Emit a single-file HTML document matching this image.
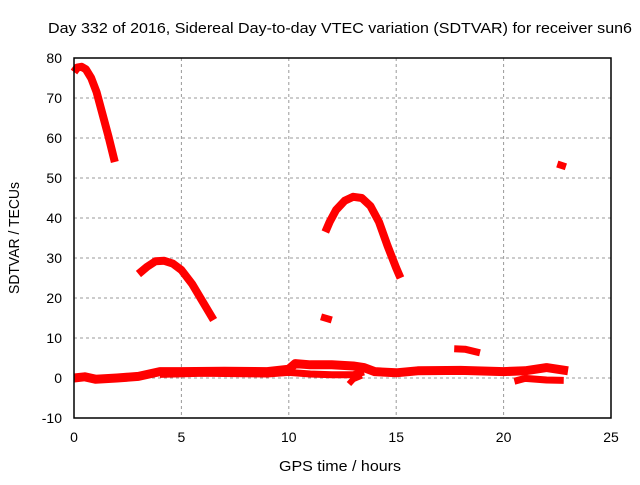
<!DOCTYPE html>
<html><head><meta charset="utf-8"><style>
body{margin:0;background:#fff}
svg{font-family:"Liberation Sans",sans-serif;font-size:14px}
</style></head><body>
<svg id="c" width="640" height="480">
<text x="340" y="33" text-anchor="middle" textLength="584" lengthAdjust="spacingAndGlyphs" font-size="15">Day 332 of 2016, Sidereal Day-to-day VTEC variation (SDTVAR) for receiver sun6</text>
<text x="340" y="471" text-anchor="middle" textLength="122" lengthAdjust="spacingAndGlyphs" font-size="15">GPS time / hours</text>
<text transform="translate(19,238) rotate(-90)" text-anchor="middle" textLength="112" lengthAdjust="spacingAndGlyphs" font-size="15">SDTVAR / TECUs</text>
<g id="grid"></g><g id="ser"></g>
<rect x="74" y="58" width="537" height="360" fill="none" stroke="#000" stroke-width="1.5"/>
</svg>
<script>
const xTicks=[0,5,10,15,20,25];
const yTicks=[-10,0,10,20,30,40,50,60,70,80];
const seg1x=[0,0.15,0.35,0.55,0.8,1.05,1.3,1.6,1.9];
const seg1y=[76.5,77.6,77.8,77.2,75,71.5,66.5,60.5,54];
const seg2x=[3.0,3.4,3.8,4.2,4.6,5.0,5.5,6.0,6.5];
const seg2y=[26,27.8,29.2,29.3,28.6,27,23.5,19,14.5];
const seg3x=[11.7,11.9,12.2,12.6,13.0,13.4,13.8,14.2,14.6,15.0,15.2];
const seg3y=[36.5,39,42,44.3,45.3,45,43,39,33,27.5,25];
const seg4x=[11.5,12.0];const seg4y=[15.3,14.5];
const seg5x=[22.5,22.9];const seg5y=[53.5,52.8];
const seg6x=[17.7,18.2,18.9];const seg6y=[7.3,7.2,6.3];
const baseX=[0,0.5,1,2,3,4,5,7,9,10,10.3,11,12,13,13.5,14,15,16,18,20,21,22,23];
const baseY=[0,0.3,-0.3,0,0.4,1.6,1.6,1.7,1.6,2.2,3.6,3.3,3.3,3.0,2.6,1.6,1.3,1.8,1.9,1.6,1.8,2.6,1.8];
const bandX=[4,6,9,10,11,12,13,13.5];const bandY=[0.9,1.2,1.0,1.4,1.0,0.8,0.8,1.5];
const dipX=[12.8,13.0,13.4];const dipY=[-1.5,-0.3,0.6];
const lowX=[20.5,21,22,22.8];const lowY=[-0.8,-0.1,-0.5,-0.6];
const X=v=>74+v*537/25, Y=v=>378-v*4;
const NS="http://www.w3.org/2000/svg";
const g=document.getElementById('grid'), s=document.getElementById('ser');
function mk(t,a,p){const e=document.createElementNS(NS,t);for(const k in a)e.setAttribute(k,a[k]);p.appendChild(e);return e;}
xTicks.forEach(v=>{
 if(v>0&&v<25){const l=mk('line',{x1:X(v),x2:X(v),y1:58,y2:418,stroke:'#999','stroke-dasharray':'3,3'},g);
 
 }
 const t=mk('text',{x:X(v),y:442,'text-anchor':'middle'},g);t.textContent=v;
 
 
});
yTicks.forEach(v=>{
 if(v>-10&&v<80){const l=mk('line',{x1:74,x2:611,y1:Y(v),y2:Y(v),stroke:'#999','stroke-dasharray':'3,3'},g);
 
 }
 const t=mk('text',{x:62,y:Y(v)+5,'text-anchor':'end'},g);t.textContent=v;
 
 
});
[[seg1x,seg1y,8],[seg2x,seg2y,8],[seg3x,seg3y,8],[seg4x,seg4y,7],[seg5x,seg5y,7],[seg6x,seg6y,7],[baseX,baseY,9],[bandX,bandY,7],[dipX,dipY,6],[lowX,lowY,7]].forEach(([xs,ys,w])=>{
 const p=mk('polyline',{points:xs.map((x,i)=>X(x)+','+Y(ys[i])).join(' '),fill:'none',stroke:'#f00','stroke-width':w,'stroke-linejoin':'round'},s);
 
 
});
</script>
</body></html>
